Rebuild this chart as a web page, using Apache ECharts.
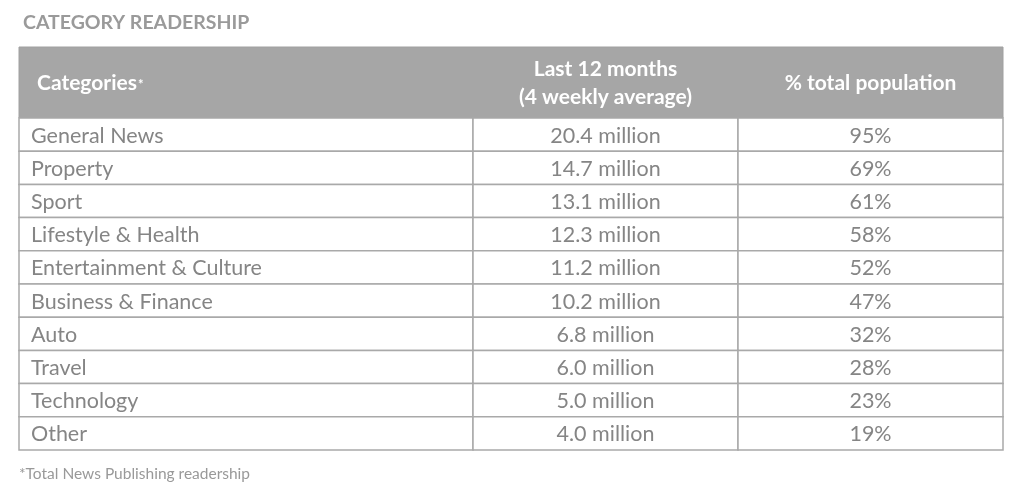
<!DOCTYPE html>
<html><head><meta charset="utf-8">
<script src="https://cdn.jsdelivr.net/npm/echarts@6/dist/echarts.min.js"></script>
<style>html,body{margin:0;padding:0;background:#fff}#c{width:1022px;height:503px}</style>
</head><body><div id="c"></div>
<script>
const categories = ["General News","Property","Sport","Lifestyle & Health","Entertainment & Culture","Business & Finance","Auto","Travel","Technology","Other"];
const readers = [20.4,14.7,13.1,12.3,11.2,10.2,6.8,6.0,5.0,4.0];
const popShare = [95,69,61,58,52,47,32,28,23,19];
const headers = ["Categories","Last 12 months\n(4 weekly average)","% total population"];

const FONT = 'Lato, "Open Sans", sans-serif';
const BORDER = '#a9a9a9';
const TXT = '#858585';
const HEAD_BG = '#a6a6a6';
const L = 19, R = 1003, HEAD_TOP = 47, BODY_TOP = 118, BODY_BOT = 450;
const colEdges = [L, 473, 738, R];
const HEAD_FONT = 'bold 21px ' + FONT;

const chart = echarts.init(document.getElementById('c'), null, {renderer:'canvas'});

function renderItem(params, api){
  const idx = api.value(0);
  const center = api.coord([0, idx]);
  const h = api.size([0, 1])[1];
  const top = center[1] - h/2;
  const texts = [categories[idx], readers[idx].toFixed(1) + ' million', popShare[idx] + '%'];
  const children = [];
  for (let c = 0; c < 3; c++) {
    const x0 = colEdges[c], x1 = colEdges[c+1];
    children.push({type:'rect', shape:{x:x0, y:top, width:x1-x0, height:h},
      style:{fill:'#fff', stroke:BORDER, lineWidth:1.5}});
    children.push({type:'text', style:{
      text: texts[c],
      x: c === 0 ? x0 + 12 : (x0 + x1)/2,
      y: center[1] + 1,
      align: c === 0 ? 'left' : 'center',
      verticalAlign:'middle',
      fill: TXT, font: '21.5px ' + FONT}});
  }
  return {type:'group', children};
}

const ctx = document.createElement('canvas').getContext('2d');
ctx.font = HEAD_FONT;
const catW = ctx.measureText(headers[0]).width;
const midY = (HEAD_TOP + BODY_TOP)/2 + 1;

const headerGraphics = [
  {type:'rect', shape:{x:L, y:HEAD_TOP, width:R-L, height:BODY_TOP-HEAD_TOP}, style:{fill:HEAD_BG, stroke:'#a0a0a0', lineWidth:1}},
  {type:'text', x:37, y:midY, style:{text:headers[0], fill:'#fff', font:HEAD_FONT, verticalAlign:'middle', align:'left'}},
  {type:'text', x:37 + catW + 1, y:midY + 1, style:{text:'*', fill:'#fff', font:'bold 13px '+FONT, verticalAlign:'middle'}},
  {type:'text', x:(colEdges[1]+colEdges[2])/2, y:midY, style:{text:headers[1], fill:'#fff', font:HEAD_FONT, verticalAlign:'middle', align:'center', lineHeight:28}},
  {type:'text', x:(colEdges[2]+colEdges[3])/2, y:midY, style:{text:headers[2], fill:'#fff', font:HEAD_FONT, verticalAlign:'middle', align:'center'}},
  {type:'text', x:19, y:474, style:{text:'*Total News Publishing readership', fill:'#999', font:'15.5px '+FONT, verticalAlign:'middle'}}
];

chart.setOption({
  animation:false,
  title:{text:'CATEGORY READERSHIP', left:18, top:8, textStyle:{color:'#9a9a9a', fontSize:19.5, fontWeight:'bold', fontFamily:FONT}},
  grid:{left:L, right:1022-R, top:BODY_TOP, bottom:503-BODY_BOT},
  xAxis:{type:'value', min:0, max:1, show:false},
  yAxis:{type:'category', data:categories, inverse:true, show:false},
  graphic: headerGraphics,
  series:[{type:'custom', renderItem, data: categories.map((_, i) => [i]), encode:{x:-1, y:0}}]
});
</script></body></html>
